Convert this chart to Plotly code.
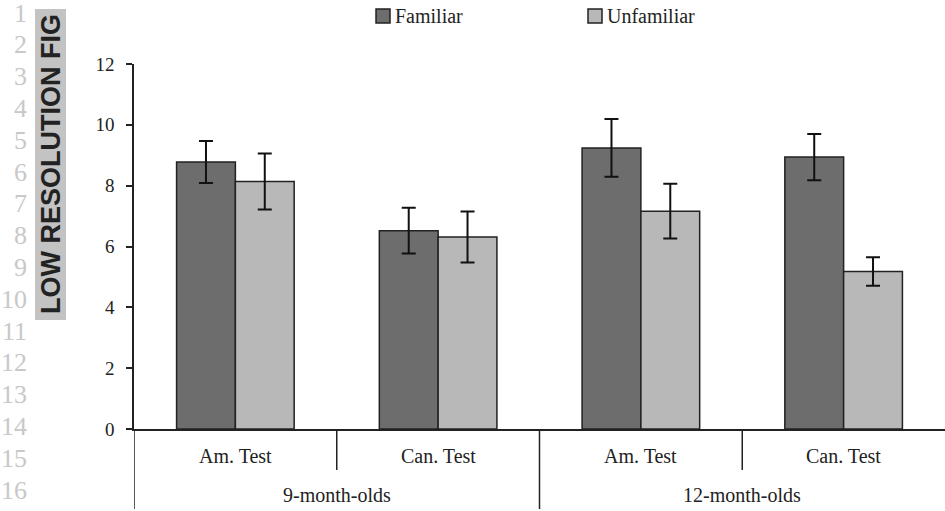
import plotly.graph_objects as go

# ---- data ----
groups = ["9-month-olds", "9-month-olds", "12-month-olds", "12-month-olds"]
tests = ["Am. Test", "Can. Test", "Am. Test", "Can. Test"]
series_names = ["Familiar", "Unfamiliar"]
familiar = [8.78, 6.52, 9.24, 8.94]
familiar_err = [0.69, 0.75, 0.95, 0.76]
unfamiliar = [8.14, 6.31, 7.16, 5.18]
unfamiliar_err = [0.92, 0.84, 0.90, 0.47]
y_ticks = [0, 2, 4, 6, 8, 10, 12]
line_numbers = list(range(1, 17))

cats = [f"{g} {t}" for g, t in zip(groups, tests)]

SERIF = "Liberation Serif, Times New Roman, serif"
COLORS = ["#6d6d6d", "#b8b8b8"]
INK = "#222222"
W, H = 945, 511
ML, MR, MT, MB = 134, 0, 64, 82
PW, PH = W - ML - MR, H - MT - MB


def px_to_paper_x(px):
    return (px - ML) / PW


def px_to_paper_y(py):
    return (H - MB - py) / PH


fig = go.Figure()
for name, vals, errs, col in zip(series_names, [familiar, unfamiliar],
                                 [familiar_err, unfamiliar_err], COLORS):
    fig.add_trace(go.Bar(
        name=name, x=cats, y=vals, showlegend=False,
        marker=dict(color=col, line=dict(color=INK, width=1.5)),
        error_y=dict(type="data", array=errs, color="#111111", thickness=2, width=7),
    ))

annotations = []
shapes = []

# inner category labels
for i, t in enumerate(tests):
    annotations.append(dict(x=i, y=px_to_paper_y(456), xref="x", yref="paper",
                            xanchor="center", yanchor="middle",
                            text=t, showarrow=False, font=dict(family=SERIF, size=20, color=INK)))
# outer group labels
seen = []
for g in groups:
    if g not in seen:
        seen.append(g)
for g in seen:
    idx = [i for i, gg in enumerate(groups) if gg == g]
    annotations.append(dict(x=(idx[0] + idx[-1]) / 2, y=px_to_paper_y(495), xref="x", yref="paper",
                            xanchor="center", yanchor="middle",
                            text=g, showarrow=False, font=dict(family=SERIF, size=20, color=INK)))

# dividers (left edge + between categories; right edge falls off the picture)
for i in range(len(tests)):
    xpos = i - 0.5
    is_outer = i == 0 or groups[i] != groups[i - 1]
    y_end = px_to_paper_y(509) if is_outer else px_to_paper_y(470)
    shapes.append(dict(type="line", xref="x", yref="paper", x0=xpos, x1=xpos, y0=0, y1=y_end,
                       line=dict(color=INK, width=1.5)))

# custom legend (square swatch + label)
legend_px = [376, 588]
for name, col, lx in zip(series_names, COLORS, legend_px):
    shapes.append(dict(type="rect", xref="paper", yref="paper",
                       x0=px_to_paper_x(lx), x1=px_to_paper_x(lx + 14),
                       y0=px_to_paper_y(23), y1=px_to_paper_y(9),
                       fillcolor=col, line=dict(color=INK, width=1.5)))
    annotations.append(dict(x=px_to_paper_x(lx + 17), y=px_to_paper_y(16), xref="paper", yref="paper",
                            xanchor="left", yanchor="middle", text=name, showarrow=False,
                            font=dict(family=SERIF, size=20, color=INK)))

# page line numbers (margin of source document)
for n in line_numbers:
    yc = 13 + 31.8 * (n - 1)
    annotations.append(dict(x=px_to_paper_x(29), y=px_to_paper_y(yc), xref="paper", yref="paper",
                            xanchor="right", yanchor="middle", text=str(n), showarrow=False,
                            font=dict(family=SERIF, size=26, color="#c8c8c8")))

# low-resolution stamp
shapes.append(dict(type="rect", xref="paper", yref="paper",
                   x0=px_to_paper_x(35), x1=px_to_paper_x(66),
                   y0=px_to_paper_y(320), y1=px_to_paper_y(9),
                   fillcolor="#c3c3c3", line=dict(width=0), layer="below"))
annotations.append(dict(x=px_to_paper_x(51), y=px_to_paper_y(164), xref="paper", yref="paper",
                        xanchor="center", yanchor="middle",
                        text="<b>LOW RESOLUTION FIG</b>", textangle=-90, showarrow=False,
                        font=dict(family="Liberation Sans, Arial, sans-serif", size=27, color="#222")))

fig.update_layout(
    width=W, height=H,
    margin=dict(l=ML, r=MR, t=MT, b=MB, autoexpand=False),
    paper_bgcolor="white", plot_bgcolor="white",
    barmode="group", bargap=0.42, bargroupgap=0,
    font=dict(family=SERIF, size=16, color=INK),
    showlegend=False,
    xaxis=dict(showticklabels=False, ticks="", showgrid=False, zeroline=False,
               showline=True, linecolor=INK, linewidth=1.5,
               range=[-0.5, len(cats) - 0.5], fixedrange=True),
    yaxis=dict(range=[0, 12], tickvals=y_ticks, ticks="outside", ticklen=6,
               tickcolor=INK, tickwidth=1.5, showline=True, linecolor=INK,
               linewidth=1.5, showgrid=False, zeroline=False, ticklabelstandoff=8,
               tickfont=dict(family=SERIF, size=19, color=INK)),
    annotations=annotations,
    shapes=shapes,
)

fig.write_html("out.html", config={"displayModeBar": False},
               post_script="document.body.style.margin='0';document.body.style.overflow='hidden';")
